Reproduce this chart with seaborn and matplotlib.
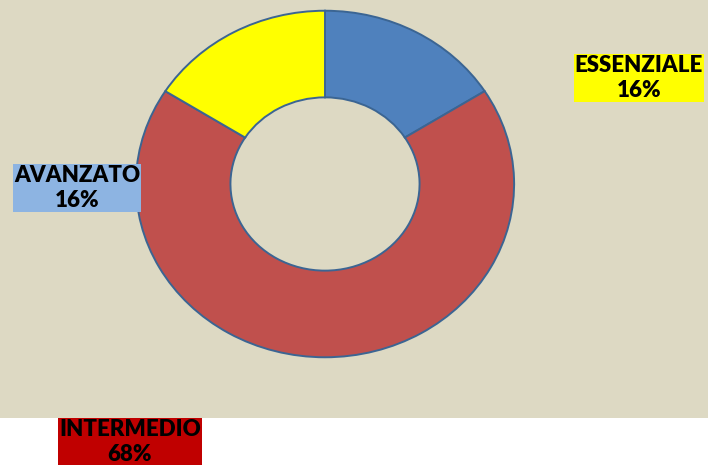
import matplotlib
matplotlib.use("Agg")
import matplotlib.pyplot as plt
import seaborn as sns

# data
categories = ["ESSENZIALE", "INTERMEDIO", "AVANZATO"]
values = [16, 68, 16]
slice_colors = ["#4F81BD", "#C0504D", "#FFFF00"]
label_colors = ["#FFFF00", "#C00000", "#8DB4E2"]

sns.set_style("white")
plt.rcParams["font.family"] = ["Lato", "DejaVu Sans"]

W, H = 708, 465
fig = plt.figure(figsize=(W / 100, H / 100), dpi=100)
fig.patch.set_facecolor("white")

# beige plot area
bg = fig.add_axes([0, (H - 418) / H, 1, 418 / H])
bg.set_facecolor("#DDD9C3")
bg.set_xticks([])
bg.set_yticks([])
for s in bg.spines.values():
    s.set_visible(False)

# donut (slightly elliptical like the original)
ax = fig.add_axes([134 / W, (H - 359) / H, 382 / W, 350 / H])
ax.pie(
    values,
    colors=slice_colors,
    startangle=90,
    counterclock=False,
    radius=1,
    wedgeprops=dict(width=0.5, edgecolor="#3B6593", linewidth=1.4),
)
ax.set_aspect("auto")
ax.set_xlim(-1.01, 1.01)
ax.set_ylim(-1.01, 1.01)
ax.axis("off")

# data labels (figure pixel centres)
label_pos = [(639, 78), (130, 442), (77, 188)]
for cat, val, col, (px, py) in zip(categories, values, label_colors, label_pos):
    fig.text(
        px / W, 1 - py / H, f"{cat}\n{val}%",
        ha="center", va="center", ma="center",
        fontsize=16, fontweight="heavy", color="black", linespacing=1.2,
        bbox=dict(boxstyle="square,pad=0.06", fc=col, ec="none"),
    )

fig.savefig("out.png", dpi=100)
